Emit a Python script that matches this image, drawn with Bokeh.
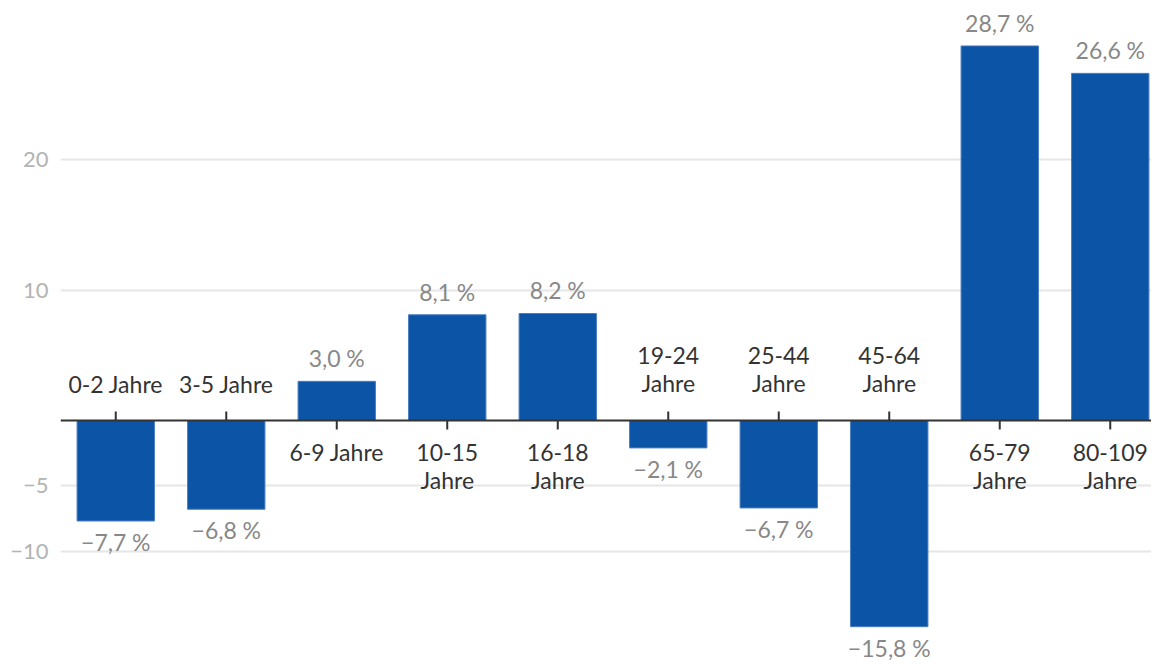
from bokeh.plotting import figure
from bokeh.models import Range1d, FixedTicker, Span, ColumnDataSource
from bokeh.core.properties import value
from bokeh.embed import file_html
from bokeh.resources import INLINE

categories = ["0-2 Jahre", "3-5 Jahre", "6-9 Jahre", "10-15\nJahre", "16-18\nJahre",
              "19-24\nJahre", "25-44\nJahre", "45-64\nJahre", "65-79\nJahre", "80-109\nJahre"]
values = [-7.7, -6.8, 3.0, 8.1, 8.2, -2.1, -6.7, -15.8, 28.7, 26.6]
y_ticks = [-10, -5, 10, 20]
y_tick_labels = ["\u221210", "\u22125", "10", "20"]

FONT = "Lato"
BAR = "#0c54a6"

def fmt(v):
    return f"{v:.1f}".replace(".", ",").replace("-", "\u2212") + "\u202f%"

idx = list(range(len(values)))
px_per_unit = 13.05
tick_len = 9 / px_per_unit

src = ColumnDataSource(dict(
    x=idx, top=values, bottom=[0] * len(values),
    label=[fmt(v) for v in values],
    tick_end=[tick_len if v < 0 else -tick_len for v in values],
    lab_off=[-23 if v >= 0 else 21 for v in values],
))
neg = ColumnDataSource(dict(
    x=[i for i, v in zip(idx, values) if v < 0],
    y=[0 for v in values if v < 0],
    cat=[c for c, v in zip(categories, values) if v < 0],
))
pos = ColumnDataSource(dict(
    x=[i for i, v in zip(idx, values) if v >= 0],
    y=[0 for v in values if v >= 0],
    cat=[c for c, v in zip(categories, values) if v >= 0],
))

p = figure(width=1151, height=664, output_backend="svg", toolbar_location=None,
           x_range=Range1d(-0.5, -0.5 + 1091 / 110.5),
           y_range=Range1d(-244 / px_per_unit, 410 / px_per_unit),
           x_axis_location=None, min_border_left=60, min_border_top=10,
           min_border_bottom=0, min_border_right=0)
p.outline_line_color = None
p.background_fill_color = "white"

p.xgrid.visible = False
p.ygrid.ticker = FixedTicker(ticks=y_ticks)
p.ygrid.grid_line_color = "#e6e6e6"
p.ygrid.grid_line_width = 2

ax = p.yaxis[0]
ax.ticker = FixedTicker(ticks=y_ticks)
ax.major_label_overrides = {t: l for t, l in zip(y_ticks, y_tick_labels)}
ax.axis_line_color = None
ax.major_tick_line_color = None
ax.minor_tick_line_color = None
ax.major_tick_out = 0
ax.major_tick_in = 0
ax.minor_tick_out = 0
ax.major_label_text_font = FONT
ax.major_label_text_font_size = "22px"
ax.major_label_text_color = "#b3b3b3"
ax.major_label_standoff = 12

p.vbar(x="x", top="top", bottom="bottom", width=0.7, source=src,
       fill_color=BAR, line_color="#4a7cc0", line_width=1)

p.add_layout(Span(location=0, dimension="width", line_color="#333333", line_width=2))
p.segment(x0="x", y0="bottom", x1="x", y1="tick_end", source=src,
          line_color="#333333", line_width=2)

p.text(x="x", y="top", text="label", source=src, y_offset="lab_off",
       text_font=value(FONT), text_font_size="23px", text_color="#888888",
       text_align="center", text_baseline="middle")

p.text(x="x", y="y", text="cat", source=neg, y_offset=-23,
       text_font=value(FONT), text_font_size="23px", text_color="#333333",
       text_align="center", text_baseline="bottom", text_line_height=1.02)
p.text(x="x", y="y", text="cat", source=pos, y_offset=17,
       text_font=value(FONT), text_font_size="23px", text_color="#333333",
       text_align="center", text_baseline="top", text_line_height=1.02)

open("out.html", "w").write(file_html(p, INLINE))
